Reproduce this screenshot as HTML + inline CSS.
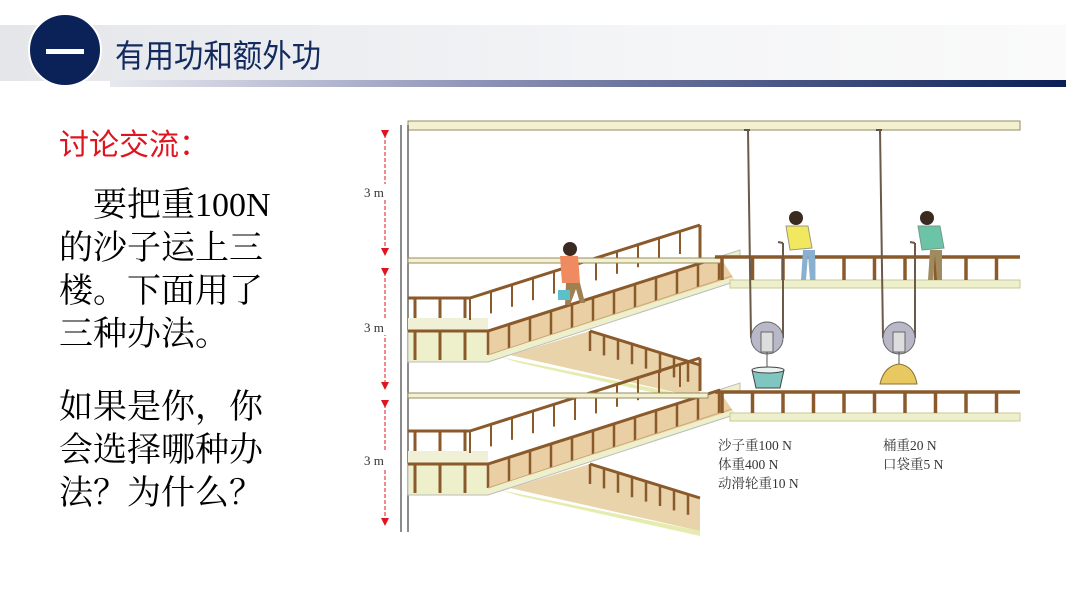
<!DOCTYPE html>
<html><head><meta charset="utf-8"><style>
html,body{margin:0;padding:0;background:#fff;width:1066px;height:600px;overflow:hidden;position:relative;font-family:"Liberation Serif","Noto Serif CJK SC",serif}
.band{position:absolute;left:0;top:25px;width:1066px;height:56px;background:linear-gradient(to right,#e4e6ea,#f4f5f7 60%,#fafafa)}
.bar{position:absolute;left:110px;top:80px;width:956px;height:7px;background:linear-gradient(to right,#e8e9ef,#8b90b5 40%,#0b1f55)}
.circ{position:absolute;left:28px;top:13px;width:74px;height:74px;border-radius:50%;background:#0b2258;border:2px solid #fff;box-sizing:border-box}
.circ:after{content:"";position:absolute;left:16px;top:34px;width:38px;height:5px;background:#fff}
.title{position:absolute;left:115px;top:31px;font:32px "Liberation Sans","Noto Sans CJK SC",sans-serif;color:#122a5e;letter-spacing:0px;transform:scaleX(.92);transform-origin:left}
.red{position:absolute;left:59px;top:120px;font-size:30px;color:#e0141e;font-family:"Liberation Sans","Noto Sans CJK SC",sans-serif}
.body{position:absolute;left:59px;font-size:34px;color:#000;line-height:43px;width:240px}
</style></head><body>
<div class="band"></div><div class="bar"></div><div class="circ"></div>
<div class="title">有用功和额外功</div>
<div class="red">讨论交流：</div>
<div class="body" style="top:184px">　要把重100N<br>的沙子运上三<br>楼。下面用了<br>三种办法。</div>
<div class="body" style="top:386px">如果是你，你<br>会选择哪种办<br>法？为什么？</div>
<svg id="s" width="1066" height="600" style="position:absolute;left:0;top:0" xmlns="http://www.w3.org/2000/svg">
<defs><marker id="ah" markerWidth="8" markerHeight="8" refX="4" refY="4" orient="auto"><path d="M0,0L8,4L0,8z" fill="#e0141e"/></marker></defs>
<!-- ceiling -->
<rect x="408" y="121" width="612" height="9" fill="#f2f2d0" stroke="#9a8a60" stroke-width="1"/>
<!-- wall -->
<line x1="401" y1="125" x2="401" y2="532" stroke="#666" stroke-width="1.5"/>
<line x1="408" y1="125" x2="408" y2="532" stroke="#666" stroke-width="1.5"/>
<!-- dimension arrows -->
<g stroke="#e0141e" stroke-width="1" stroke-dasharray="4,2">
<line x1="385" y1="134" x2="385" y2="252" marker-start="url(#ah)" marker-end="url(#ah)"/>
<line x1="385" y1="272" x2="385" y2="386" marker-start="url(#ah)" marker-end="url(#ah)"/>
<line x1="385" y1="404" x2="385" y2="522" marker-start="url(#ah)" marker-end="url(#ah)"/>
</g>
<g font-size="13" fill="#333"><rect x="362" y="184" width="34" height="16" fill="#fff"/><text x="364" y="197">3 m</text>
<rect x="362" y="319" width="34" height="16" fill="#fff"/><text x="364" y="332">3 m</text>
<rect x="362" y="452" width="34" height="16" fill="#fff"/><text x="364" y="465">3 m</text></g>
<g id="g"></g>
<!-- ropes & pulleys -->
<g stroke="#6b5a48" stroke-width="2" fill="none">
<line x1="748" y1="130" x2="751" y2="338"/><line x1="783" y1="338" x2="783" y2="243"/><line x1="783" y1="243" x2="778" y2="242"/>
<line x1="880" y1="130" x2="883" y2="338"/><line x1="915" y1="338" x2="915" y2="243"/><line x1="915" y1="243" x2="910" y2="242"/>
</g>
<g><circle cx="767" cy="338" r="16" fill="#b9b8c8" stroke="#666"/><rect x="761" y="332" width="12" height="20" fill="#ddd" stroke="#666"/>
<line x1="767" y1="352" x2="767" y2="368" stroke="#555"/>
<path d="M752 370 H784 L780 388 H756 Z" fill="#7fc6c0" stroke="#444"/><ellipse cx="768" cy="370" rx="16" ry="3" fill="#e8f3f2" stroke="#444"/>
<circle cx="899" cy="338" r="16" fill="#b9b8c8" stroke="#666"/><rect x="893" y="332" width="12" height="20" fill="#ddd" stroke="#666"/>
<line x1="899" y1="352" x2="899" y2="364" stroke="#555"/>
<path d="M880 384 Q884 366 899 364 Q914 366 917 384 Z" fill="#e8c860" stroke="#8a7030"/></g>
<!-- people simplified -->
<g>
<circle cx="796" cy="218" r="7" fill="#3a2a20"/><path d="M786 226 L808 226 L812 248 L790 250 Z" fill="#f2e860" stroke="#998"/>
<path d="M803 250 h12 v30 h-5 l-2 -25 l-2 25 h-5 z" fill="#8ab0d0"/>
<circle cx="927" cy="218" r="7" fill="#3a2a20"/><path d="M918 226 L940 226 L944 248 L922 250 Z" fill="#6cc4a8" stroke="#798"/>
<path d="M930 250 h12 v30 h-5 l-2 -25 l-2 25 h-5 z" fill="#a08a60"/>
<circle cx="570" cy="249" r="7" fill="#3a2a20"/><path d="M560 256 L578 256 L580 283 L562 283 Z" fill="#f08a60"/>
<path d="M566 283 h14 l5 20 h-5 l-4 -14 l-6 16 h-5z" fill="#a08050"/><rect x="558" y="290" width="12" height="10" fill="#5cc0c8"/>
</g>
<g font-size="13.5" fill="#333" font-family="'Liberation Serif','Noto Serif CJK SC',serif">
<text x="718" y="450">沙子重100 N</text><text x="718" y="469">体重400 N</text><text x="718" y="488">动滑轮重10 N</text>
<text x="883" y="450">桶重20 N</text><text x="883" y="469">口袋重5 N</text></g>
</svg>
<script>
var g=document.getElementById('g'),h='';
function L(a,b,c,d,col,w){h+='<line x1="'+a+'" y1="'+b+'" x2="'+c+'" y2="'+d+'" stroke="'+(col||'#8a5a2a')+'" stroke-width="'+(w||3)+'"/>';}
function P(pts,f,s){h+='<polygon points="'+pts+'" fill="'+f+'" stroke="'+(s||'none')+'" stroke-width="1"/>';}
[[0,257,280],[133,392,413]].forEach(function(o){
 var d=o[0];
 // left floor beam
 h+='<rect x="408" y="'+(257+d-135+ (d?0:0))+'" width="0" height="0"/>';
 // descending flight below landing
 P('510,'+(490+d-135)+' 590,'+(466+d-135)+' 700,'+(500+d-135)+' 700,'+(533+d-135),'#e9d3aa');
 P('500,'+(492+d-135)+' 700,'+(533+d-135)+' 700,'+(538+d-135)+' 520,'+(498+d-135),'#e6ebb0');
 for(var i=0;i<8;i++){var x=590+i*14,y=466+d-135+i*4.4;L(x,y,x,y+20,'#8a5a2a',2.5);}
 L(590,466+d-135,700,500+d-135,'#8a5a2a',3);
 // landing
 P('408,'+(453+d-135)+' 488,'+(453+d-135)+' 488,'+(497+d-135)+' 408,'+(497+d-135),'#f0f0d6');
 P('408,'+(466+d-135)+' 488,'+(466+d-135)+' 740,'+(385+d-135)+' 740,'+(415+d-135)+' 488,'+(497+d-135)+' 408,'+(497+d-135),'#eef0cc','#bbb');
 // steps
 P('488,'+(466+d-135)+' 713,'+(393+d-135)+' 740,'+(393+d-135)+' 740,'+(410+d-135)+' 488,'+(490+d-135),'#e9cfa3');
 for(var i=0;i<12;i++){var x=488+i*21,y=466+d-135-i*6.8;L(x,y,x,y+24,'#8a5a2a',2.5);L(x,y+24,x+21,y+17,'#c9a878',1);}
 L(408,433+d-135,470,433+d-135);L(470,433+d-135,700,360+d-135);L(700,360+d-135,700,393+d-135);
 for(var i=0;i<11;i++){var x=470+i*21,y=433+d-135-i*6.6;L(x,y,x,y+22,'#8a5a2a',2);}
 L(408,466+d-135,488,466+d-135);L(488,466+d-135,720,392+d-135);
 [415,440,465].forEach(function(x){L(x,433+d-135,x,453+d-135,'#8a5a2a',3);L(x,466+d-135,x,495+d-135,'#8a5a2a',3);});
 // left floor beam at floor level
 h+='<rect x="408" y="'+(o[1]+1)+'" width="'+(d?300:330)+'" height="5" fill="#f2f2d0" stroke="#9a8a60"/>';
 // right floor
 P('720,'+o[1]+' 1020,'+o[1]+' 1020,'+(o[2]+8)+' 740,'+(o[2]+8),'#fff');
 h+='<rect x="730" y="'+o[2]+'" width="290" height="8" fill="#eef0cc" stroke="#c8c89a"/>';
 L(715,o[1],1020,o[1],'#8a5a2a',3.5);
 for(var x=722;x<1020;x+=30.5)L(x,o[1],x,o[2],'#8a5a2a',3.5);
});
h+='<line x1="744" y1="130" x2="750" y2="130" stroke="#555" stroke-width="2"/><line x1="876" y1="130" x2="882" y2="130" stroke="#555" stroke-width="2"/>';
g.innerHTML=h;
</script>
</body></html>
